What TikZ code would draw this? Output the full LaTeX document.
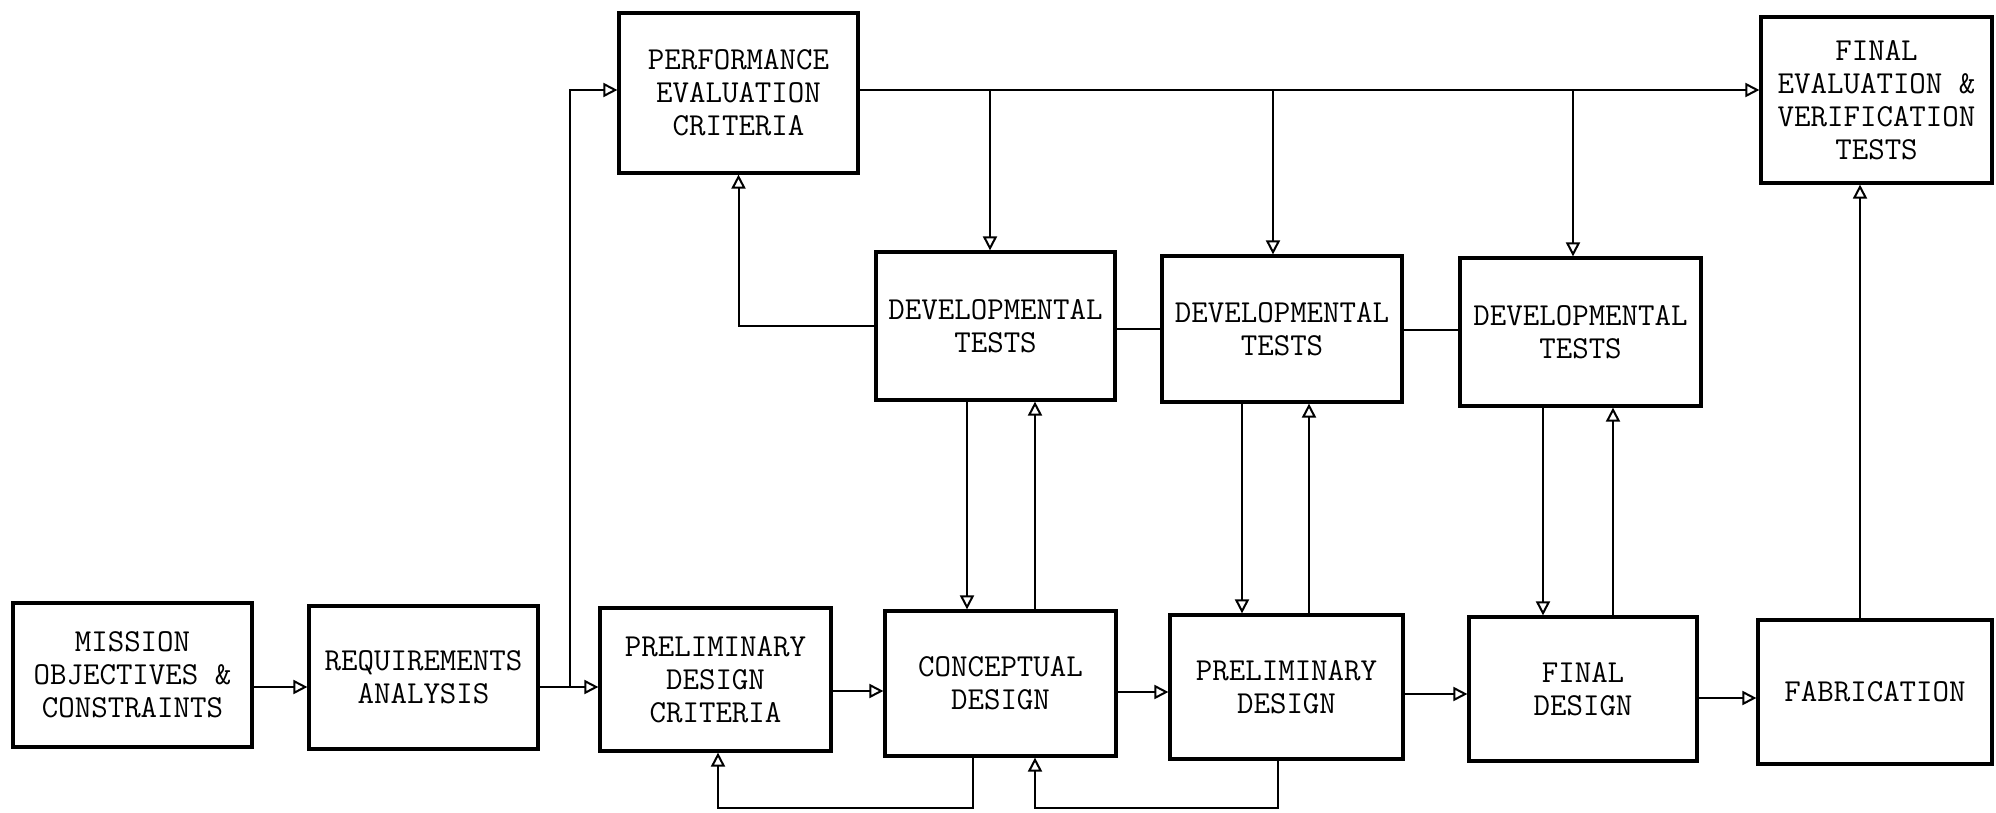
\documentclass[tikz,border=0pt]{standalone}
\usetikzlibrary{arrows.meta}
\begin{document}
\begin{tikzpicture}[x=0.5pt,y=-0.5pt,
  box/.style={draw=black,line width=1.6pt,fill=white,align=center,inner sep=0pt,
    font=\ttfamily\fontsize{16}{16.5}\selectfont},
  conn/.style={draw=black,line width=1pt},
  arr/.style={conn,-{Triangle[open,length=7pt,width=7pt]}}]
\useasboundingbox (0,0) rectangle (1996,813);
% nodes (centres in px, sizes in pt = px/2)
\node[box,minimum width=119.5pt,minimum height=72pt] (mission) at (132.5,675) {MISSION\\OBJECTIVES \&\\CONSTRAINTS};
\node[box,minimum width=114.5pt,minimum height=71.5pt] (req) at (423.5,677.5) {REQUIREMENTS\\ANALYSIS};
\node[box,minimum width=119.5pt,minimum height=80pt] (perf) at (738.5,93) {PERFORMANCE\\EVALUATION\\CRITERIA};
\node[box,minimum width=115.5pt,minimum height=71.5pt] (pdc) at (715.5,679.5) {PRELIMINARY\\DESIGN\\CRITERIA};
\node[box,minimum width=115.5pt,minimum height=72.5pt] (cd) at (1000.5,683.5) {CONCEPTUAL\\DESIGN};
\node[box,minimum width=116.5pt,minimum height=72pt] (pd) at (1286.5,687) {PRELIMINARY\\DESIGN};
\node[box,minimum width=114pt,minimum height=72pt] (fd) at (1583,689) {FINAL\\DESIGN};
\node[box,minimum width=117pt,minimum height=72pt] (fab) at (1875,692) {FABRICATION};
\node[box,minimum width=115.5pt,minimum height=83pt] (fev) at (1876.5,100) {FINAL\\EVALUATION \&\\VERIFICATION\\TESTS};
\node[box,minimum width=119.5pt,minimum height=74pt] (dt1) at (995.5,326) {DEVELOPMENTAL\\TESTS};
\node[box,minimum width=120pt,minimum height=73pt] (dt2) at (1282,329) {DEVELOPMENTAL\\TESTS};
\node[box,minimum width=120.5pt,minimum height=74pt] (dt3) at (1580.5,332) {DEVELOPMENTAL\\TESTS};
% junction coordinates
\coordinate (j1) at (570,687);
\coordinate (t1) at (990,90);
\coordinate (t2) at (1273,90);
\coordinate (t3) at (1573,90);
\coordinate (b1) at (973,808);
\coordinate (b2) at (1278,808);
% bottom chain
\draw[arr] (mission.east |- j1) -- (req.west |- j1);
\draw[conn] (req.east |- j1) -- (j1);
\draw[arr] (j1) -- (pdc.west |- j1);
\draw[arr] (j1) |- (perf.west |- t1);
\draw[arr] (pdc.east |- 0,691) -- (cd.west |- 0,691);
\draw[arr] (cd.east |- 0,692) -- (pd.west |- 0,692);
\draw[arr] (pd.east |- 0,694) -- (fd.west |- 0,694);
\draw[arr] (fd.east |- 0,698) -- (fab.west |- 0,698);
% top line and branches
\draw[arr] (perf.east |- t1) -- (fev.west |- t1);
\draw[arr] (t1) -- (t1 |- dt1.north);
\draw[arr] (t2) -- (t2 |- dt2.north);
\draw[arr] (t3) -- (t3 |- dt3.north);
% dev tests links
\draw[arr] (dt1.west) -| (perf.south);
\draw[conn] (dt1.east |- 0,329) -- (dt2.west |- 0,329);
\draw[conn] (dt2.east |- 0,330) -- (dt3.west |- 0,330);
% verticals
\draw[arr] (dt1.south -| 967,0) -- (cd.north -| 967,0);
\draw[arr] (cd.north -| 1035,0) -- (dt1.south -| 1035,0);
\draw[arr] (dt2.south -| 1242,0) -- (pd.north -| 1242,0);
\draw[arr] (pd.north -| 1309,0) -- (dt2.south -| 1309,0);
\draw[arr] (dt3.south -| 1543,0) -- (fd.north -| 1543,0);
\draw[arr] (fd.north -| 1613,0) -- (dt3.south -| 1613,0);
\draw[arr] (fab.north -| 1860,0) -- (fev.south -| 1860,0);
% bottom feedback
\draw[arr] (cd.south -| b1) -- (b1) -| (pdc.south -| 718,0);
\draw[arr] (pd.south -| b2) -- (b2) -| (cd.south -| 1035,0);
\end{tikzpicture}
\end{document}
